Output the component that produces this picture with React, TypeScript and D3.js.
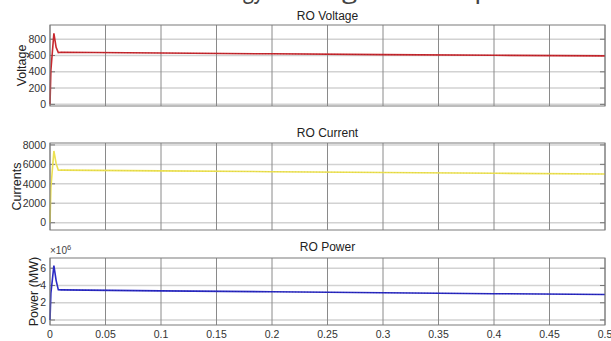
import React from "react";
import * as d3 from "d3";

// time axis (s) and the three RO signals
const timeS = [0, 0.0008, 0.0035, 0.0055, 0.0075, 0.01, 0.1, 0.2, 0.3, 0.4, 0.5];
const voltage = [0, 420, 872, 700, 636, 640, 631, 621, 611, 603, 596];
const current = [0, 3600, 7380, 6100, 5400, 5410, 5330, 5250, 5170, 5090, 5010];
const power = [0, 3.1, 6.3, 4.6, 3.5, 3.49, 3.38, 3.27, 3.16, 3.05, 2.95]; // x 10^6

const xTicks = [0, 0.05, 0.1, 0.15, 0.2, 0.25, 0.3, 0.35, 0.4, 0.45, 0.5];
const voltTicks = [0, 200, 400, 600, 800];
const currTicks = [0, 2000, 4000, 6000, 8000];
const powTicks = [0, 2, 4, 6];

const W = 611;
const H = 341;
const left = 50;
const right = 605;
const font = "'Liberation Sans', Arial, sans-serif";

var x = d3.scaleLinear().domain([0, 0.5]).range([left, right]);

const panels = [
  { title: "RO Voltage", label: "Voltage", labelX: 22, values: voltage, ticks: voltTicks, domain: [-20, 975], top: 25, bottom: 106, color: "#c8282e", rip: "#8a1a22", titleY: 20 },
  { title: "RO Current", label: "Currents", labelX: 17, values: current, ticks: currTicks, domain: [-750, 8200], top: 143, bottom: 230, color: "#ece152", rip: "#c9bd3a", titleY: 137 },
  { title: "RO Power", label: "Power (MW)", labelX: 34, values: power, ticks: powTicks, domain: [-0.58, 7.19], top: 258, bottom: 325, color: "#2a2ac4", rip: "#18187a", titleY: 251 },
];

function Panel({ p, last }) {
  const y = d3.scaleLinear().domain(p.domain).range([p.bottom, p.top]);
  const line = d3
    .line()
    .defined((d, i) => d != null)
    .x((d, i) => x(timeS[i]))
    .y(d => y(d));
  // steady part carries a fine ripple, drawn as a dotted overlay
  const steady = p.values.map((v, i) => (timeS[i] >= 0.01 ? v : null));
  const midY = (p.top + p.bottom) / 2;
  return (
    <g>
      <rect x={left} y={p.top} width={right - left} height={p.bottom - p.top} fill="#fff" />
      {p.ticks.map(t => (
        <line key={"h" + t} x1={left} x2={right} y1={y(t)} y2={y(t)} stroke="#d2d2d2" strokeWidth={1.5} />
      ))}
      {xTicks.map(t => (
        <line key={"v" + t} x1={x(t)} x2={x(t)} y1={p.top} y2={p.bottom} stroke="#8a8a8a" strokeWidth={1} />
      ))}
      {p.ticks.map(t => (
        <g key={"t" + t}>
          <line x1={left} x2={left + 5} y1={y(t)} y2={y(t)} stroke="#777" />
          <line x1={right - 5} x2={right} y1={y(t)} y2={y(t)} stroke="#777" />
        </g>
      ))}
      <path d={line(p.values)} fill="none" stroke={p.color} strokeWidth={1.6} />
      <path d={line(steady)} fill="none" stroke={p.rip} strokeWidth={0.7} strokeDasharray="1,2" opacity={0.6} />
      <rect x={left} y={p.top} width={right - left} height={p.bottom - p.top} fill="none" stroke="#7a7a7a" strokeWidth={1} />
      {p.ticks.map(t => (
        <text key={"l" + t} x={left - 4} y={y(t)} dy="0.35em" textAnchor="end" fontSize={10.5} fill="#333" fontFamily={font}>
          {t}
        </text>
      ))}
      <text x={(left + right) / 2} y={p.titleY} textAnchor="middle" fontSize={12} fill="#222" fontFamily={font}>
        {p.title}
      </text>
      <text
        transform={`translate(${p.labelX},${midY}) rotate(-90)`}
        textAnchor="middle"
        dy="0.35em"
        fontSize={12.5}
        fill="#222"
        fontFamily={font}
      >
        {p.label}
      </text>
      {last && (
        <g>
          <text x={left} y={p.top - 4} fontSize={10} fill="#444" fontFamily={font}>
            ×10<tspan dy={-4} fontSize={7.5}>6</tspan>
          </text>
          {xTicks.map(t => (
            <text key={"x" + t} x={x(t)} y={p.bottom + 13} textAnchor="middle" fontSize={10.5} fill="#333" fontFamily={font}>
              {t}
            </text>
          ))}
        </g>
      )}
    </g>
  );
}

export default function App() {
  return (
    <svg width={W} height={H} style={{ position: "absolute", left: 0, top: 0, background: "#fff" }}>
      <rect width={W} height={H} fill="#fff" />
      {/* caption of the source figure, cropped at the top edge */}
      <text x={35} y={-2} fontSize={26} fill="#444" fontFamily="'Open Sans', sans-serif" textLength={229} lengthAdjust="spacingAndGlyphs">
        characteristics of energy
      </text>
      <text x={275} y={-2} fontSize={26} fill="#444" fontFamily="'Open Sans', sans-serif" textLength={317} lengthAdjust="spacingAndGlyphs">
        storage in RO operation.
      </text>
      {panels.map((p, i) => (
        <Panel key={p.title} p={p} last={i === panels.length - 1} />
      ))}
    </svg>
  );
}
